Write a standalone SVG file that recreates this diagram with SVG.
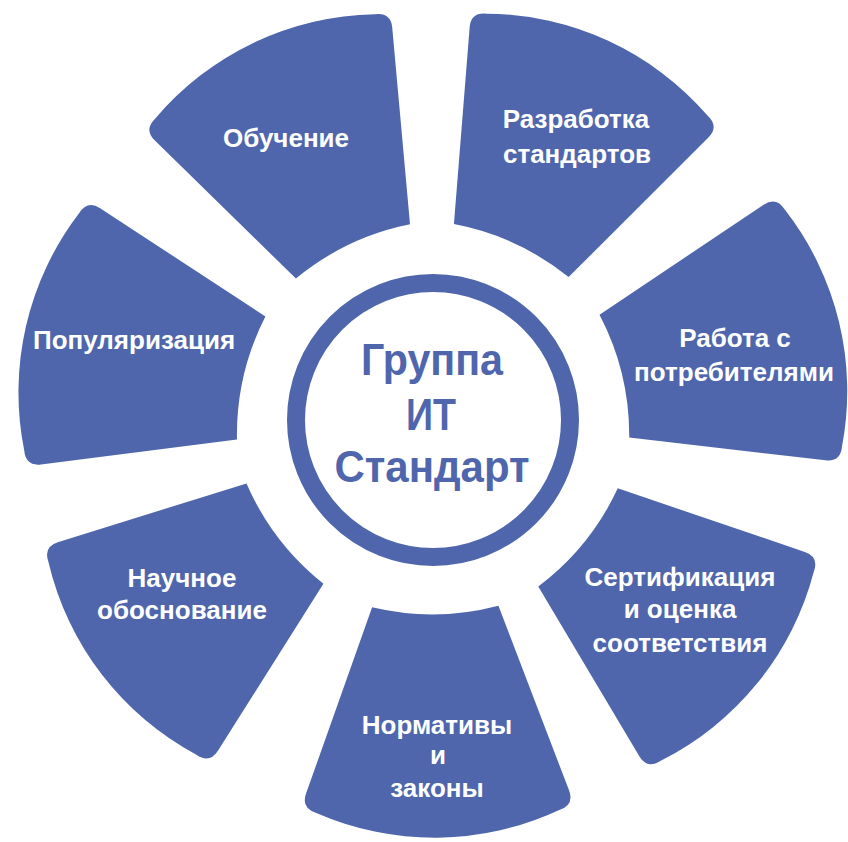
<svg xmlns="http://www.w3.org/2000/svg" xmlns:xlink="http://www.w3.org/1999/xlink" width="848" height="842" viewBox="0 0 848 842">
<style>
.sec{fill:#4f66ad}
.lbl{fill:#ffffff;font-family:"Liberation Sans",Arial,sans-serif;font-weight:bold;font-size:26px;text-anchor:middle}
.ctr{fill:#4f66ad;font-family:"Liberation Sans",Arial,sans-serif;font-weight:bold;font-size:44px;text-anchor:middle}
</style>
<defs>
<path id="sector" d="M -63.16 -186.60 L -131.5 -372.0 Q -136.86 -386.48 -121.5 -391.5 A 295 295 0 0 1 121.5 -391.5 Q 136.86 -386.48 131.5 -372.0 L 63.16 -186.60 A 260 260 0 0 0 -63.16 -186.60 Z"/>
</defs>
<rect width="848" height="842" fill="#ffffff"/>
<g id="connectors"/>
<g id="node-center">
<circle cx="433" cy="420" r="137" fill="#ffffff" stroke="#4f66ad" stroke-width="18"/>
<text class="ctr" x="432" y="375" textLength="142" lengthAdjust="spacingAndGlyphs">Группа</text>
<text class="ctr" x="431" y="430" textLength="50" lengthAdjust="spacingAndGlyphs">ИТ</text>
<text class="ctr" x="432" y="482" textLength="195" lengthAdjust="spacingAndGlyphs">Стандарт</text>
</g>
<g id="node-razrabotka">
<use xlink:href="#sector" class="sec" transform="translate(433 420) rotate(24.8)"/>
<text class="lbl" x="576" y="128">Разработка</text>
<text class="lbl" x="577" y="163">стандартов</text>
</g>
<g id="node-rabota">
<use xlink:href="#sector" class="sec" transform="translate(433 420) rotate(76.4)"/>
<text class="lbl" x="735" y="347">Работа с</text>
<text class="lbl" x="734" y="381">потребителями</text>
</g>
<g id="node-sertifikacia">
<use xlink:href="#sector" class="sec" transform="translate(433 420) rotate(129)"/>
<text class="lbl" x="680" y="586">Сертификация</text>
<text class="lbl" x="680" y="618">и оценка</text>
<text class="lbl" x="680" y="652">соответствия</text>
</g>
<g id="node-normativy">
<use xlink:href="#sector" class="sec" transform="translate(433 420) rotate(179.3)"/>
<text class="lbl" x="437" y="734">Нормативы</text>
<text class="lbl" x="438" y="764">и</text>
<text class="lbl" x="437" y="797">законы</text>
</g>
<g id="node-nauchnoe">
<use xlink:href="#sector" class="sec" transform="translate(433 420) rotate(232.5)"/>
<text class="lbl" x="182" y="587">Научное</text>
<text class="lbl" x="182" y="619">обоснование</text>
</g>
<g id="node-popularizacia">
<use xlink:href="#sector" class="sec" transform="translate(433 420) rotate(283)"/>
<text class="lbl" x="134" y="349">Популяризация</text>
</g>
<g id="node-obuchenie">
<use xlink:href="#sector" class="sec" transform="translate(433 420) rotate(334.6)"/>
<text class="lbl" x="286" y="147">Обучение</text>
</g>
</svg>
